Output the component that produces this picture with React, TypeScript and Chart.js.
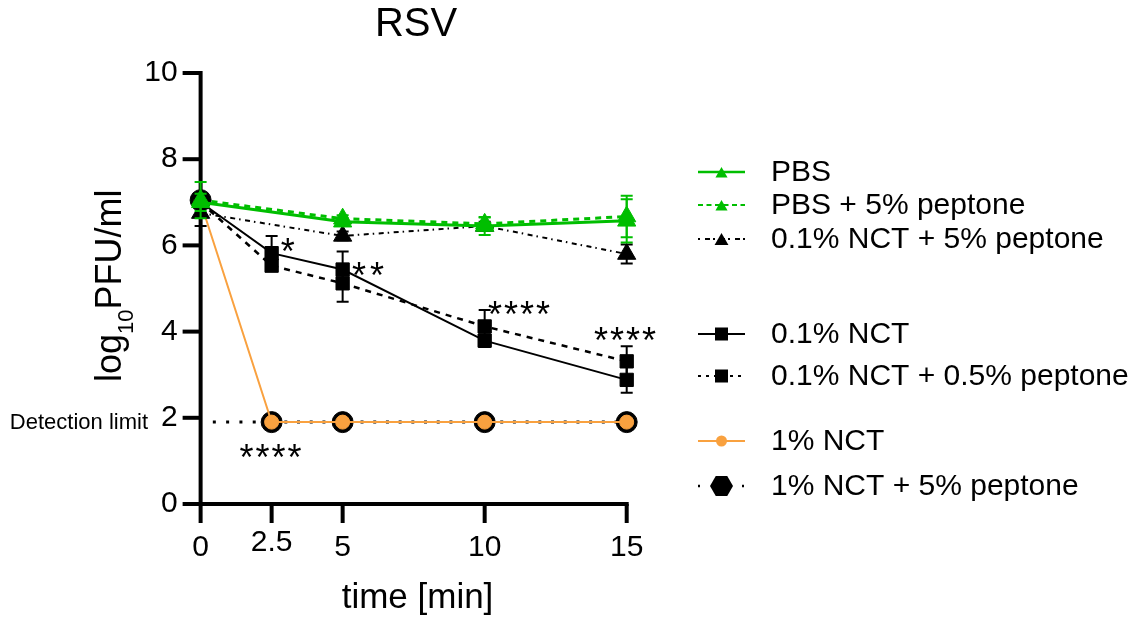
import React, { useEffect, useRef } from 'react';
import { Chart, registerables } from 'chart.js';

Chart.register(...registerables);

// ---------- data ----------
const times = [0, 2.5, 5, 10, 15];
const xTickValues = [0, 2.5, 5, 10, 15];
const xTickLabels = ['0', '2.5', '5', '10', '15'];
const yTickValues = [0, 2, 4, 6, 8, 10];

const pbs = [7.0, null, 6.55, 6.45, 6.57];
const pbsSd = [0.2, null, 0.08, 0.21, 0.5];
const pbsPeptone = [7.05, null, 6.62, 6.5, 6.67];
const pbsPeptoneSd = [0.42, null, 0.08, 0.15, 0.48];
const nct01Peptone5 = [6.75, null, 6.22, 6.45, 5.8];
const nct01Peptone5Sd = [0.3, null, 0.1, 0.1, 0.22];
const nct01 = [7.0, 5.82, 5.44, 3.79, 2.88];
const nct01Sd = [0.1, 0.4, 0.42, 0.15, 0.3];
const nct01Peptone05 = [7.0, 5.53, 5.12, 4.12, 3.31];
const nct01Peptone05Sd = [0.1, 0.12, 0.43, 0.38, 0.35];
const nct1 = [7.0, 1.9, 1.9, 1.9, 1.9];
const nct1Peptone5 = [7.05, 1.9, 1.9, 1.9, 1.9];

const detectionLimit = 1.9;
const detectionLineX = [0.43, 2.2];

const sigX = [3.07, 5.89, 11.21, 14.94, 2.46];
const sigY = [6.05, 5.5, 4.6, 3.99, 1.28];
const sigText = ['*', '**', '****', '****', '****'];

const legendLabels = [
  'PBS',
  'PBS + 5% peptone',
  '0.1% NCT + 5% peptone',
  '0.1% NCT',
  '0.1% NCT + 0.5% peptone',
  '1% NCT',
  '1% NCT + 5% peptone',
];

// ---------- styles ----------
const GREEN = '#00BE00';
const ORANGE = '#F9A13F';
const BLACK = '#000000';
const FONT = '"Liberation Sans", Arial, Helvetica, sans-serif';

const legendRowY = [173, 206, 240, 335, 377, 442, 487];

type Style = {
  color: string;
  dash: number[];
  legendDash: number[];
  width: number;
  legendWidth: number;
  pointStyle: string;
  radius: number;
  legendRadius: number;
  order: number;
};

const styles: Style[] = [
  { color: GREEN, dash: [], legendDash: [], width: 3, legendWidth: 2.5, pointStyle: 'triangle', radius: 10.5, legendRadius: 7, order: 1 },
  { color: GREEN, dash: [6, 5], legendDash: [5, 3.5], width: 3, legendWidth: 2, pointStyle: 'triangle', radius: 10.5, legendRadius: 7, order: 2 },
  { color: BLACK, dash: [5, 4, 1.5, 4.5], legendDash: [2, 5, 5, 3], width: 2, legendWidth: 2, pointStyle: 'triangle', radius: 10.5, legendRadius: 8, order: 3 },
  { color: BLACK, dash: [], legendDash: [], width: 2, legendWidth: 2, pointStyle: 'rect', radius: 9.4, legendRadius: 9.2, order: 4 },
  { color: BLACK, dash: [6, 6], legendDash: [3, 5], width: 2.5, legendWidth: 2, pointStyle: 'rect', radius: 9.4, legendRadius: 9.2, order: 5 },
  { color: ORANGE, dash: [], legendDash: [], width: 2, legendWidth: 2, pointStyle: 'circle', radius: 7, legendRadius: 5.5, order: 6 },
  { color: BLACK, dash: [3, 9.7], legendDash: [2, 42], width: 3, legendWidth: 2.5, pointStyle: 'circle', radius: 10.5, legendRadius: 11.5, order: 7 },
];

const seriesValues = [pbs, pbsPeptone, nct01Peptone5, nct01, nct01Peptone05, nct1, nct1Peptone5];
const seriesSd = [pbsSd, pbsPeptoneSd, nct01Peptone5Sd, nct01Sd, nct01Peptone05Sd, null, null];

function buildDatasets() {
  const ds: any[] = seriesValues.map((vals, i) => {
    const s = styles[i];
    const set: any = {
      label: legendLabels[i],
      data: times.map((t, j) => ({ x: t, y: vals[j] })),
      errors: seriesSd[i],
      borderColor: s.color,
      backgroundColor: s.color,
      borderWidth: s.width,
      borderDash: s.dash,
      pointStyle: s.pointStyle,
      pointRadius: s.radius,
      pointHoverRadius: s.radius,
      pointBorderWidth: 1,
      pointBorderColor: s.color,
      pointBackgroundColor: s.color,
      spanGaps: true,
      tension: 0,
      clip: false,
      order: s.order,
    };
    if (i === 6) {
      // the drop segment is hidden under the orange 1% NCT line
      set.segment = {
        borderColor: (c: any) => (c.p0DataIndex === 0 ? 'rgba(0,0,0,0)' : undefined),
      };
    }
    return set;
  });
  ds.push({
    label: 'Detection limit',
    data: detectionLineX.map((x) => ({ x, y: detectionLimit })),
    borderColor: BLACK,
    borderWidth: 3,
    borderDash: [3, 10.3],
    pointRadius: 0,
    clip: false,
    order: 8,
  });
  return ds;
}

// ---------- plugins ----------
const errorBarPlugin = {
  id: 'errorBars',
  beforeDatasetDraw(chart: any, args: any) {
    const ds = chart.data.datasets[args.index];
    const sd = ds.errors;
    if (!sd) return;
    const xs = chart.scales.x;
    const ys = chart.scales.y;
    const ctx = chart.ctx;
    ctx.save();
    ctx.strokeStyle = ds.borderColor;
    ctx.lineWidth = 2;
    ctx.setLineDash([]);
    ds.data.forEach((p: any, i: number) => {
      if (p.y == null || sd[i] == null) return;
      const x = xs.getPixelForValue(p.x);
      const yt = ys.getPixelForValue(p.y + sd[i]);
      const yb = ys.getPixelForValue(p.y - sd[i]);
      ctx.beginPath();
      ctx.moveTo(x, yt);
      ctx.lineTo(x, yb);
      ctx.moveTo(x - 6, yt);
      ctx.lineTo(x + 6, yt);
      ctx.moveTo(x - 6, yb);
      ctx.lineTo(x + 6, yb);
      ctx.stroke();
    });
    ctx.restore();
  },
};

const axesPlugin = {
  id: 'axesFrame',
  beforeDatasetsDraw(chart: any) {
    const ctx = chart.ctx;
    const xs = chart.scales.x;
    const ys = chart.scales.y;
    const x0 = xs.getPixelForValue(0);
    const yb = ys.getPixelForValue(0);
    const yTop = ys.getPixelForValue(10);
    ctx.save();
    ctx.strokeStyle = BLACK;
    ctx.lineWidth = 4;
    ctx.lineCap = 'butt';
    ctx.setLineDash([]);
    ctx.beginPath();
    ctx.moveTo(x0, yTop - 2);
    ctx.lineTo(x0, yb);
    ctx.stroke();
    ctx.beginPath();
    ctx.moveTo(chart.chartArea.left, yb);
    ctx.lineTo(xs.getPixelForValue(15) + 2, yb);
    ctx.stroke();
    yTickValues.forEach((v) => {
      const y = ys.getPixelForValue(v);
      ctx.beginPath();
      ctx.moveTo(x0 - 18, y);
      ctx.lineTo(x0, y);
      ctx.stroke();
    });
    xTickValues.forEach((v) => {
      const x = xs.getPixelForValue(v);
      ctx.beginPath();
      ctx.moveTo(x, yb);
      ctx.lineTo(x, yb + 19);
      ctx.stroke();
    });
    ctx.restore();
  },
  afterDraw(chart: any) {
    const ctx = chart.ctx;
    const xs = chart.scales.x;
    const ys = chart.scales.y;
    const x0 = xs.getPixelForValue(0);
    const yb = ys.getPixelForValue(0);
    ctx.save();
    ctx.fillStyle = BLACK;

    // y tick labels
    ctx.font = `30px ${FONT}`;
    ctx.textAlign = 'right';
    ctx.textBaseline = 'middle';
    yTickValues.forEach((v) => {
      ctx.fillText(String(v), x0 - 23, ys.getPixelForValue(v));
    });
    // x tick labels
    ctx.textAlign = 'center';
    xTickValues.forEach((v, i) => {
      const lift = xTickLabels[i] === '2.5' ? 5 : 0;
      ctx.fillText(xTickLabels[i], xs.getPixelForValue(v), yb + 44 - lift);
    });

    // title
    ctx.font = `40px ${FONT}`;
    ctx.textBaseline = 'middle';
    ctx.fillText('RSV', 416, 25);

    // x title
    ctx.font = `35px ${FONT}`;
    ctx.textBaseline = 'alphabetic';
    ctx.fillText('time [min]', 417.5, 608);

    // y title (rotated)
    ctx.save();
    ctx.translate(121, 382);
    ctx.rotate(-Math.PI / 2);
    ctx.textAlign = 'left';
    ctx.textBaseline = 'alphabetic';
    ctx.font = `36px ${FONT}`;
    let cx = 0;
    ctx.fillText('log', cx, 0);
    cx += ctx.measureText('log').width;
    ctx.font = `22px ${FONT}`;
    ctx.fillText('10', cx, 12);
    cx += ctx.measureText('10').width;
    ctx.font = `36px ${FONT}`;
    ctx.fillText('PFU/ml', cx, 0);
    ctx.restore();

    // detection limit label
    ctx.font = `22px ${FONT}`;
    ctx.textAlign = 'right';
    ctx.textBaseline = 'middle';
    ctx.fillText('Detection limit', 148, ys.getPixelForValue(detectionLimit) + 1);

    // significance asterisks
    ctx.font = `36px ${FONT}`;
    ctx.textAlign = 'center';
    ctx.textBaseline = 'alphabetic';
    sigText.forEach((t, i) => {
      const step = t.length === 2 ? 18 : 16;
      const cxp = xs.getPixelForValue(sigX[i]);
      const cyp = ys.getPixelForValue(sigY[i]) + 21;
      for (let k = 0; k < t.length; k++) {
        const px = cxp + (k - (t.length - 1) / 2) * step;
        ctx.fillText('*', px, cyp);
      }
    });

    // legend
    const lx0 = 698;
    const lx1 = 745;
    const lmx = 721.5;
    legendLabels.forEach((label, i) => {
      const s = styles[i];
      const y = legendRowY[i];
      const ly = y - 1;
      ctx.strokeStyle = s.color;
      ctx.fillStyle = s.color;
      ctx.lineWidth = s.legendWidth;
      ctx.setLineDash(s.legendDash);
      ctx.beginPath();
      ctx.moveTo(lx0, ly);
      ctx.lineTo(lx1, ly);
      ctx.stroke();
      ctx.setLineDash([]);
      const r = s.legendRadius;
      ctx.beginPath();
      if (s.pointStyle === 'triangle') {
        for (let k = 0; k < 3; k++) {
          const a = (k * 2 * Math.PI) / 3;
          const px = lmx + Math.sin(a) * r;
          const py = ly + 2 - Math.cos(a) * r;
          if (k === 0) ctx.moveTo(px, py);
          else ctx.lineTo(px, py);
        }
        ctx.closePath();
      } else if (s.pointStyle === 'rect') {
        const h = r * Math.SQRT1_2;
        ctx.rect(lmx - h, ly - h, 2 * h, 2 * h);
      } else if (i === 6) {
        for (let k = 0; k < 6; k++) {
          const a = (k * Math.PI) / 3;
          const px = lmx + Math.cos(a) * r;
          const py = ly + Math.sin(a) * r;
          if (k === 0) ctx.moveTo(px, py);
          else ctx.lineTo(px, py);
        }
        ctx.closePath();
      } else {
        ctx.arc(lmx, ly, r, 0, Math.PI * 2);
      }
      ctx.fill();
      ctx.fillStyle = BLACK;
      ctx.font = `30px ${FONT}`;
      ctx.textAlign = 'left';
      ctx.textBaseline = 'middle';
      ctx.fillText(label, 771, y);
    });

    ctx.restore();
  },
};

export default function App() {
  const ref = useRef<HTMLCanvasElement>(null);
  useEffect(() => {
    if (!ref.current) return;
    const chart = new Chart(ref.current, {
      type: 'line',
      data: { datasets: buildDatasets() },
      options: {
        responsive: false,
        animation: false,
        devicePixelRatio: 1,
        layout: { padding: { left: 183, right: 511.3, top: 73, bottom: 117 } },
        scales: {
          x: { type: 'linear', min: -0.62, max: 15, display: false },
          y: { type: 'linear', min: 0, max: 10, display: false },
        },
        plugins: {
          legend: { display: false },
          tooltip: { enabled: false },
          title: { display: false },
        },
        events: [],
      },
      plugins: [errorBarPlugin, axesPlugin],
    } as any);
    return () => chart.destroy();
  }, []);
  return (
    <div style={{ position: 'fixed', left: 0, top: 0, width: 1138, height: 621, background: '#fff' }}>
      <canvas ref={ref} width={1138} height={621} style={{ display: 'block', width: 1138, height: 621 }} />
    </div>
  );
}
